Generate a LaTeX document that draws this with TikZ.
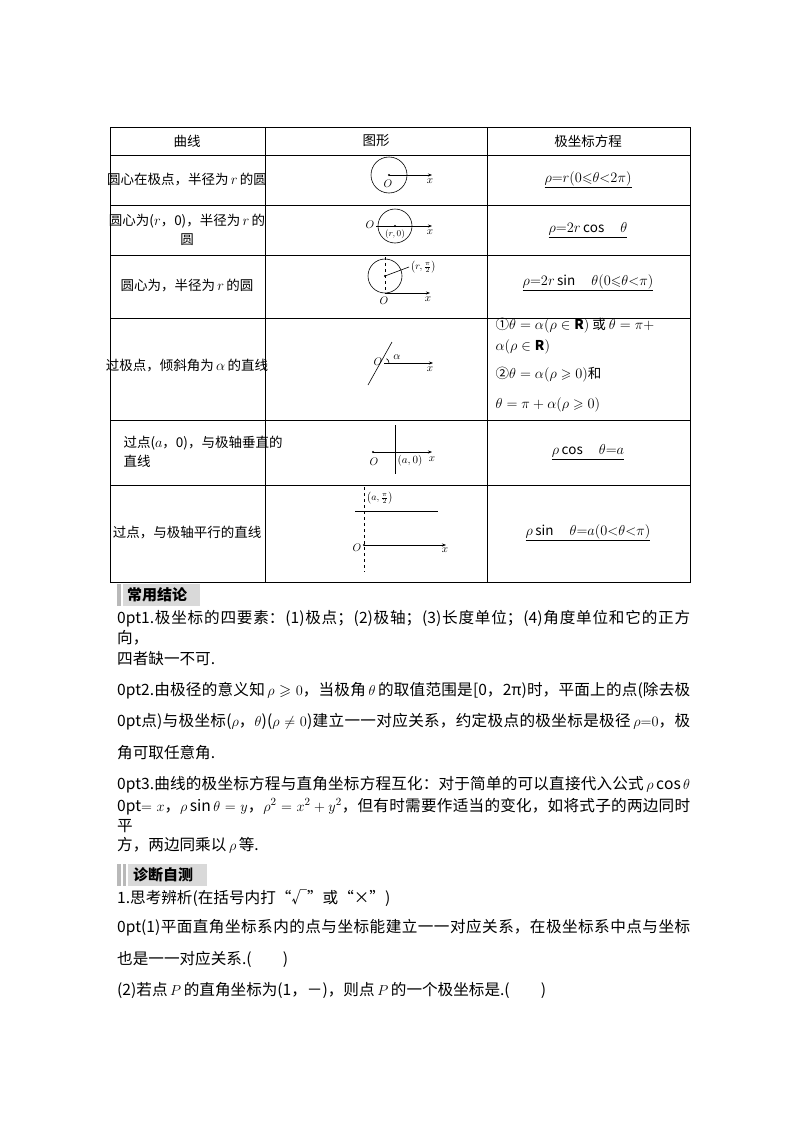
\documentclass[tikz,border=0pt]{standalone}
\usepackage{fontspec}
\usepackage{amssymb}
\setmainfont{Noto Sans CJK SC}
\XeTeXlinebreaklocale "zh"
\XeTeXlinebreakskip=0pt plus 2pt
\usetikzlibrary{arrows.meta}
\begin{document}
\begin{tikzpicture}[x=1pt,y=-1pt,
  cell/.style={font=\fontsize{13.5}{19}\selectfont,align=center},
  fig/.style={font=\fontsize{11}{12}\selectfont},
  ax/.style={line width=0.6pt,-{Stealth[length=4pt,width=3pt]}},
  ln/.style={line width=0.6pt},
  jl/.style={anchor=west,text width=573pt,align=justify,inner sep=0pt,font=\fontsize{15.6}{20}\selectfont\parfillskip=0pt},
  ll/.style={anchor=west,inner sep=0pt,font=\fontsize{15.6}{20}\selectfont},
  hbar/.style={fill=gray!30,draw=none},
  htext/.style={font=\fontsize{15}{15}\selectfont\bfseries,anchor=west,inner sep=0pt}]
\useasboundingbox (0,0) rectangle (800,1132);
\fill[white] (0,0) rectangle (800,1132);
% table grid
\draw[line width=0.8pt] (110,127) rectangle (690,582);
\foreach \yy in {155,205,255,318,420,485} \draw[line width=0.8pt] (110,\yy) -- (690,\yy);
\draw[line width=0.8pt] (265,127) -- (265,582);
\draw[line width=0.8pt] (487,127) -- (487,582);
% header
\node[cell] (h1) at (187,141) {曲线};
\node[cell] (h2) at (376,141) {图形};
\node[cell] (h3) at (588,141) {极坐标方程};
% col1
\node[cell] (c1) at (187,180) {圆心在极点，半径为\,$r$\,的圆};
\node[cell] (c2) at (187,230) {圆心为($r$，0)，半径为\,$r$\,的\\圆};
\node[cell] (c3) at (187,286) {圆心为，半径为\,$r$\,的圆};
\node[cell] (c4) at (187,366) {过极点，倾斜角为\,$\alpha$\,的直线};
\node[cell,align=left,anchor=west] (c5) at (120,452) {过点($a$，0)，与极轴垂直的\\直线};
\node[cell] (c6) at (187,533) {过点，与极轴平行的直线};
% col3
\node[cell] (e1) at (588,180) {\underline{$\rho{=}r(0{\leqslant}\theta{<}2\pi)$}};
\node[cell] (e2) at (588,230) {\underline{$\rho{=}2r\cos\quad\theta$}};
\node[cell] (e3) at (588,283) {\underline{$\rho{=}2r\sin\quad\theta(0{\leqslant}\theta{<}\pi)$}};
\node[cell,anchor=west] (e4a) at (492,326) {①$\theta=\alpha(\rho\in\mathbf{R})$ 或 $\theta=\pi+$};
\node[cell,anchor=west] (e4b) at (492,347) {$\alpha(\rho\in\mathbf{R})$};
\node[cell,anchor=west] (e4c) at (492,375) {②$\theta=\alpha(\rho\geqslant0)$和};
\node[cell,anchor=west] (e4d) at (492,405) {$\theta=\pi+\alpha(\rho\geqslant0)$};
\node[cell] (e5) at (588,452) {\underline{$\rho\cos\quad\theta{=}a$}};
\node[cell] (e6) at (588,533) {\underline{$\rho\sin\quad\theta{=}a(0{<}\theta{<}\pi)$}};
% fig1
\coordinate (o1) at (389,175);
\draw[ln] (o1) circle (18);
\fill (o1) circle (1.2);
\coordinate (x1) at (432,175);
\draw[ax] (o1) -- (x1);
\node[fig] (lo1) at (388,184) {$O$};
\node[fig] (lx1) at (430,181) {$x$};
% fig2
\coordinate (c2c) at (395,226);
\draw[ln] (c2c) circle (17);
\fill (c2c) circle (1.2);
\coordinate (s2) at (376,226); \coordinate (x2) at (432,226);
\draw[ax] (s2) -- (x2);
\node[fig] (lo2) at (370,225) {$O$};
\node[fig,font=\fontsize{9}{9}\selectfont] (lr2) at (395,234) {$(r,0)$};
\node[fig] (lx2) at (430,232) {$x$};
% fig3
\coordinate (c3c) at (385,276);
\draw[ln] (c3c) circle (17);
\fill (c3c) circle (1.2);
\coordinate (o3) at (385,293); \coordinate (t3) at (385,257);
\draw[ln,dashed] (t3) -- (o3);
\coordinate (x3) at (430,293);
\draw[ax] (o3) -- (x3);
\coordinate (l3) at (409,267);
\draw[ln] (c3c) -- (l3);
\node[fig,anchor=west,inner sep=0.5pt,font=\fontsize{10}{10}\selectfont] (lr3) at (410,267) {$\left(r,\frac{\pi}{2}\right)$};
\node[fig] (lo3) at (384,301) {$O$};
\node[fig] (lx3) at (428,299) {$x$};
% fig4
\coordinate (o4) at (384,363);
\coordinate (a4) at (368,385); \coordinate (b4) at (392,342);
\draw[ln] (a4) -- (b4);
\coordinate (x4) at (433,363);
\draw[ax] (o4) -- (x4);
\draw[ln] (389,363) arc (0:-60:5);
\node[fig] (lo4) at (378,362) {$O$};
\node[fig] (la4) at (397,357) {$\alpha$};
\node[fig] (lx4) at (430,369) {$x$};
% fig5
\coordinate (o5) at (373,452); \coordinate (x5) at (432,452);
\draw[ax] (o5) -- (x5);
\fill (o5) circle (1.2);
\coordinate (v5a) at (395,425); \coordinate (v5b) at (395,474);
\draw[ln] (v5a) -- (v5b);
\node[fig] (lo5) at (374,462) {$O$};
\node[fig] (la5) at (410,461) {$(a,0)$};
\node[fig] (lx5) at (432,459) {$x$};
% fig6
\coordinate (d6a) at (364,487); \coordinate (d6b) at (364,572);
\draw[ln,dashed] (d6a) -- (d6b);
\coordinate (h6a) at (355,511); \coordinate (h6b) at (438,511);
\draw[ln] (h6a) -- (h6b);
\coordinate (o6) at (364,545); \coordinate (x6) at (446,545);
\draw[ax] (o6) -- (x6);
\fill (o6) circle (1.2);
\node[fig,anchor=west,inner sep=0.5pt,font=\fontsize{10}{10}\selectfont] (la6) at (366,498) {$\left(a,\frac{\pi}{2}\right)$};
\node[fig] (lo6) at (357,548) {$O$};
\node[fig] (lx6) at (445,550) {$x$};
% header bars
\fill[gray!55] (117,584) rectangle (121,606);
\fill[hbar] (123,584) rectangle (200,606);
\node[htext] (hb1) at (127,595) {常用结论};
\fill[gray!55] (117,864) rectangle (121,886);
\fill[gray!55] (123,864) rectangle (126,886);
\fill[hbar] (128,864) rectangle (207,886);
\node[htext] (hb2) at (133,875) {诊断自测};
% paragraphs
\node[jl] (p1a) at (117,628) {1.极坐标的四要素：(1)极点；(2)极轴；(3)长度单位；(4)角度单位和它的正方向，};
\node[ll] (p1b) at (117,659) {四者缺一不可.};
\node[jl] (p2a) at (117,691) {2.由极径的意义知\,$\rho\geqslant0$，当极角\,$\theta$\,的取值范围是[0，2π)时，平面上的点(除去极};
\node[jl] (p2b) at (117,722) {点)与极坐标($\rho$，$\theta$)($\rho\neq0$)建立一一对应关系，约定极点的极坐标是极径\,$\rho{=}0$，极};
\node[ll] (p2c) at (117,753) {角可取任意角.};
\node[jl] (p3a) at (117,785) {3.曲线的极坐标方程与直角坐标方程互化：对于简单的可以直接代入公式\,$\rho\cos\theta$};
\node[jl] (p3b) at (117,815) {$=x$，$\rho\sin\theta=y$，$\rho^2=x^2+y^2$，但有时需要作适当的变化，如将式子的两边同时平};
\node[ll] (p3c) at (117,845) {方，两边同乘以\,$\rho$\,等.};
\node[ll] (p4a) at (117,898) {1.思考辨析(在括号内打“√”或“×”)};
\node[jl] (p4b) at (117,928) {(1)平面直角坐标系内的点与坐标能建立一一对应关系，在极坐标系中点与坐标};
\node[ll] (p4c) at (117,959) {也是一一对应关系.(\quad\quad)};
\node[ll] (p4d) at (117,990) {(2)若点\,$P$\,的直角坐标为(1，－)，则点\,$P$\,的一个极坐标是.(\quad\quad)};
\end{tikzpicture}
\end{document}
